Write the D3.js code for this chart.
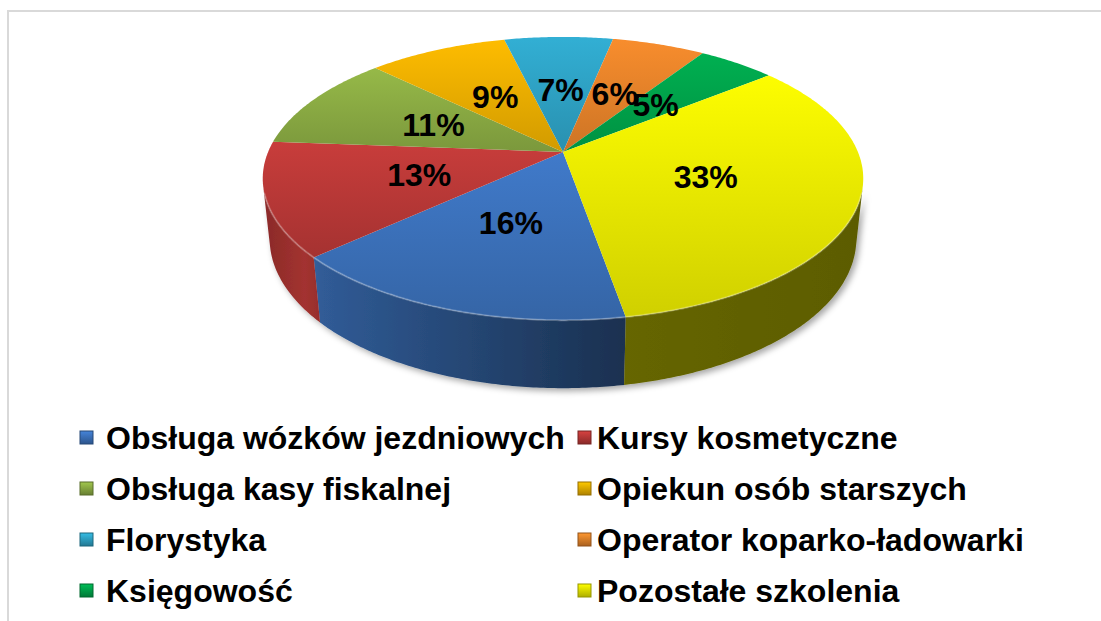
<!DOCTYPE html>
<html lang="pl">
<head>
<meta charset="UTF-8">
<title>Szkolenia</title>
<script src="https://cdn.jsdelivr.net/npm/d3@7"></script>
<style>
    body{ margin:0; background:#fff; font-family:"Liberation Sans", Arial, sans-serif; }
    svg text{ font-weight:bold; fill:#000; }
</style>
</head>
<body>
<svg id="main" width="1101" height="621"></svg>
<script>

    // data
    const categories = [
        "Obsługa wózków jezdniowych",
        "Kursy kosmetyczne",
        "Obsługa kasy fiskalnej",
        "Opiekun osób starszych",
        "Florystyka",
        "Operator koparko-ładowarki",
        "Księgowość",
        "Pozostałe szkolenia"
    ];
    const values = [16, 13, 11, 9, 7, 6, 5, 33];
    const colors = ["#3f78c6", "#c43c3a", "#93b547", "#f9b800", "#31acd0", "#f38a2c", "#00ad4f", "#f8f800"];

    // 3d projection of the disk
    const cx = 563, cy = 152;
    const tilt = 27.6 * Math.PI / 180;
    const camDist = 4.73, focal = 1395, thick = 0.232;

    function proj(theta, r, level) {
        const X = r * Math.sin(theta), Z = -r * Math.cos(theta), Y = level;
        const up = Y * Math.cos(tilt) - Z * Math.sin(tilt);
        const d = Y * Math.sin(tilt) + Z * Math.cos(tilt);
        const s = focal / (camDist - d);
        return [cx + X * s, cy - up * s];
    }

    const svg = d3.select("svg#main");
    const defs = svg.append("defs");

    // frame of the chart area
    svg.append("rect")
        .attr("x", 8).attr("y", 11).attr("width", 1110).attr("height", 630)
        .attr("fill", "none").attr("stroke", "#d9d9d9").attr("stroke-width", 2);

    const pie = d3.pie().sort(null).value(d => d)
        .startAngle(170 * Math.PI / 180)
        .endAngle(530 * Math.PI / 180);
    const arcs = pie(values);

    const line = d3.line();
    function rim(a0, a1, level) {
        const n = Math.max(2, Math.ceil((a1 - a0) / 0.01));
        return d3.range(n + 1).map(i => proj(a0 + (a1 - a0) * i / n, 1, level));
    }
    const shade = (c, f) => { const k = d3.rgb(c); return d3.rgb(k.r * f, k.g * f, k.b * f).formatHex(); };

    // shadow
    const flt = defs.append("filter").attr("id", "shadow")
        .attr("x", "-10%").attr("y", "-10%").attr("width", "130%").attr("height", "130%");
    flt.append("feDropShadow").attr("dx", 3).attr("dy", 3).attr("stdDeviation", 3)
        .attr("flood-color", "#000").attr("flood-opacity", 0.35);

    // side walls (only front facing part is visible)
    const visLimit = Math.acos(-1 / (camDist * Math.cos(tilt)));
    const visRanges = [[visLimit, 2 * Math.PI - visLimit], [2 * Math.PI + visLimit, 4 * Math.PI - visLimit]];
    const sideProfile = [[255, 0.68], [305, 0.83], [322, 0.76], [470, 0.58], [620, 0.41], [860, 0.37]];

    const walls = svg.append("g").attr("filter", "url(#shadow)");
    arcs.forEach((a, i) => {
        const g = defs.append("linearGradient").attr("id", "side" + i)
            .attr("gradientUnits", "userSpaceOnUse")
            .attr("x1", 255).attr("x2", 860).attr("y1", 0).attr("y2", 0);
        sideProfile.forEach(p => g.append("stop")
            .attr("offset", (p[0] - 255) / 605)
            .attr("stop-color", shade(colors[i], p[1])));
        visRanges.forEach(r => {
            const a0 = Math.max(a.startAngle, r[0]), a1 = Math.min(a.endAngle, r[1]);
            if (a1 <= a0) return;
            const pts = rim(a0, a1, 0).concat(rim(a0, a1, -thick).reverse());
            walls.append("path")
                .attr("d", line(pts) + "Z")
                .attr("fill", "url(#side" + i + ")");
        });
    });

    // top faces
    const tops = svg.append("g");
    arcs.forEach((a, i) => {
        const g = defs.append("linearGradient").attr("id", "top" + i)
            .attr("x1", 0).attr("x2", 0).attr("y1", 0).attr("y2", 1);
        g.append("stop").attr("offset", 0).attr("stop-color", shade(colors[i], 1.02));
        g.append("stop").attr("offset", 1).attr("stop-color", shade(colors[i], 0.84));
        const pts = [[cx, cy]].concat(rim(a.startAngle, a.endAngle, 0));
        tops.append("path")
            .attr("d", line(pts) + "Z")
            .attr("fill", "url(#top" + i + ")");
    });

    // soft highlight on the front rim
    svg.append("path")
        .attr("d", line(rim(visLimit + 0.05, 2 * Math.PI - visLimit - 0.05, 0)))
        .attr("fill", "none").attr("stroke", "#fff").attr("stroke-opacity", 0.25).attr("stroke-width", 2);

    // percent labels
    svg.append("g").selectAll("text")
        .data(arcs)
        .join("text")
        .attr("x", d => proj((d.startAngle + d.endAngle) / 2, 0.5, 0)[0])
        .attr("y", d => proj((d.startAngle + d.endAngle) / 2, 0.5, 0)[1])
        .attr("text-anchor", "middle")
        .attr("dominant-baseline", "central")
        .attr("font-size", 32)
        .text(d => d.value + "%");

    // legend, two columns
    const colX = [80, 578], textX = [106, 597];
    const rowY = [449, 500, 551, 602];
    const legend = svg.append("g").selectAll("g")
        .data(categories)
        .join("g")
        .attr("transform", (d, i) => `translate(0,${rowY[Math.floor(i / 2)]})`);

    categories.forEach((c, i) => {
        const g = defs.append("linearGradient").attr("id", "leg" + i)
            .attr("x1", 0).attr("x2", 0).attr("y1", 0).attr("y2", 1);
        g.append("stop").attr("offset", 0).attr("stop-color", shade(colors[i], 1.1));
        g.append("stop").attr("offset", 1).attr("stop-color", shade(colors[i], 0.7));
    });

    legend.append("rect")
        .attr("x", (d, i) => colX[i % 2])
        .attr("y", -18)
        .attr("width", 13).attr("height", 13)
        .attr("fill", (d, i) => "url(#leg" + i + ")")
        .attr("stroke", (d, i) => shade(colors[i], 0.6))
        .attr("stroke-width", 1);

    legend.append("text")
        .attr("x", (d, i) => textX[i % 2])
        .attr("font-size", 32)
        .text(d => d);

</script>
</body>
</html>
